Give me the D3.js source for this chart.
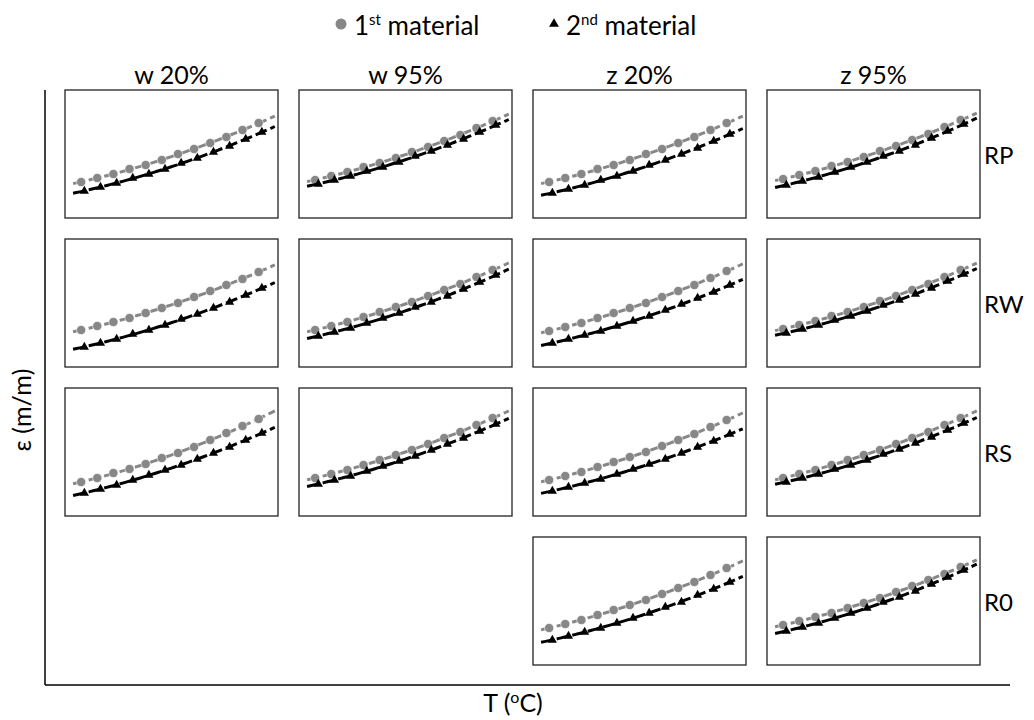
<!DOCTYPE html>
<html>
<head>
<meta charset="utf-8">
<script src="https://cdn.jsdelivr.net/npm/d3@7"></script>
<style>
  html, body { margin: 0; padding: 0; background: #fff; }
  svg { display: block; }
  text { font-family: Lato, "Open Sans", sans-serif; fill: #000; }
</style>
</head>
<body>
<svg id="chart" width="1034" height="720"></svg>
<script>
// Panel grid labels
const columns = ["w 20%", "w 95%", "z 20%", "z 95%"];
const rows = ["RP", "RW", "RS", "R0"];

// Temperatures of the measured points (°C)
const temps1 = [10, 15, 20, 25, 30, 35, 40, 45, 50, 55, 60, 65];
const temps2 = [11, 16, 21, 26, 31, 36, 41, 46, 51, 56, 61, 66];

// Strain (×10⁻³ m/m), one array per row; null where no test was run.
const mat1W20 = [
  [3.6, 4.0, 4.4, 4.9, 5.3, 5.8, 6.4, 6.9, 7.5, 8.1, 8.8, 9.5],
  [3.7, 4.1, 4.5, 4.9, 5.4, 5.9, 6.4, 7.0, 7.6, 8.2, 8.8, 9.5],
  [3.4, 3.8, 4.3, 4.7, 5.2, 5.8, 6.3, 6.9, 7.6, 8.3, 9.0, 9.7],
  null
];
const mat2W20 = [
  [2.7, 3.1, 3.5, 4.0, 4.4, 4.9, 5.5, 6.0, 6.6, 7.2, 7.9, 8.6],
  [2.0, 2.4, 2.8, 3.3, 3.7, 4.2, 4.8, 5.3, 5.9, 6.5, 7.2, 7.9],
  [2.3, 2.7, 3.1, 3.6, 4.1, 4.6, 5.1, 5.7, 6.3, 6.9, 7.6, 8.3],
  null
];
const mat1W95 = [
  [3.8, 4.2, 4.6, 5.1, 5.5, 6.0, 6.6, 7.1, 7.7, 8.3, 9.0, 9.7],
  [3.7, 4.1, 4.5, 5.0, 5.5, 6.0, 6.5, 7.1, 7.7, 8.3, 9.0, 9.7],
  [3.8, 4.2, 4.6, 5.1, 5.6, 6.1, 6.6, 7.2, 7.8, 8.4, 9.1, 9.8],
  null
];
const mat2W95 = [
  [3.4, 3.8, 4.2, 4.7, 5.1, 5.6, 6.2, 6.7, 7.3, 7.9, 8.6, 9.3],
  [3.1, 3.5, 3.9, 4.4, 4.9, 5.4, 6.0, 6.5, 7.1, 7.8, 8.5, 9.2],
  [3.2, 3.6, 4.0, 4.5, 5.0, 5.5, 6.0, 6.6, 7.2, 7.8, 8.5, 9.2],
  null
];
const mat1Z20 = [
  [3.6, 4.0, 4.4, 4.9, 5.3, 5.8, 6.4, 6.9, 7.5, 8.1, 8.8, 9.5],
  [3.6, 4.0, 4.4, 4.9, 5.4, 5.9, 6.4, 7.0, 7.6, 8.2, 8.9, 9.6],
  [3.6, 4.0, 4.4, 4.9, 5.4, 5.9, 6.4, 7.0, 7.6, 8.2, 8.9, 9.6],
  [3.7, 4.1, 4.5, 5.0, 5.5, 6.0, 6.5, 7.1, 7.7, 8.3, 9.0, 9.7]
];
const mat2Z20 = [
  [2.5, 2.9, 3.3, 3.8, 4.2, 4.7, 5.3, 5.8, 6.4, 7.0, 7.7, 8.4],
  [2.4, 2.8, 3.2, 3.6, 4.1, 4.6, 5.1, 5.7, 6.3, 6.9, 7.5, 8.2],
  [2.5, 2.9, 3.3, 3.7, 4.2, 4.7, 5.2, 5.7, 6.3, 6.9, 7.5, 8.2],
  [2.5, 2.9, 3.3, 3.7, 4.2, 4.7, 5.2, 5.8, 6.3, 7.0, 7.6, 8.3]
];
const mat1Z95 = [
  [3.9, 4.3, 4.7, 5.2, 5.6, 6.1, 6.7, 7.2, 7.8, 8.4, 9.1, 9.8],
  [3.8, 4.2, 4.6, 5.1, 5.5, 6.0, 6.6, 7.1, 7.7, 8.3, 9.0, 9.7],
  [3.8, 4.2, 4.6, 5.1, 5.6, 6.1, 6.6, 7.2, 7.8, 8.4, 9.1, 9.8],
  [4.0, 4.4, 4.8, 5.2, 5.7, 6.2, 6.7, 7.3, 7.9, 8.5, 9.1, 9.8]
];
const mat2Z95 = [
  [3.3, 3.7, 4.1, 4.6, 5.1, 5.6, 6.2, 6.7, 7.3, 8.0, 8.7, 9.4],
  [3.4, 3.8, 4.2, 4.7, 5.1, 5.6, 6.2, 6.7, 7.3, 7.9, 8.6, 9.3],
  [3.4, 3.8, 4.2, 4.7, 5.1, 5.6, 6.2, 6.7, 7.3, 7.9, 8.6, 9.3],
  [3.4, 3.8, 4.2, 4.7, 5.2, 5.7, 6.3, 6.8, 7.4, 8.1, 8.8, 9.5]
];

const material1 = [mat1W20, mat1W95, mat1Z20, mat1Z95];
const material2 = [mat2W20, mat2W95, mat2Z20, mat2Z95];

const GREY = "#878787";
const svg = d3.select("#chart");

// Grid of small multiples
const colBand = d3.scaleBand().domain(columns).range([65, 980]).paddingInner(21 / 234);
const rowBand = d3.scaleBand().domain(rows).range([90, 665]).paddingInner(21 / 149);

// Shared panel scales (in panel-local coordinates)
const x = d3.scaleLinear().domain([5, 71]).range([0, colBand.bandwidth()]);
const y = d3.scaleLinear().domain([0, 12.8]).range([rowBand.bandwidth(), 0]);

// Second-order least-squares trend through a series
function quadFit(xs, ys) {
  let s = [0, 0, 0, 0, 0], t = [0, 0, 0];
  xs.forEach((xv, i) => {
    let p = 1;
    for (let k = 0; k < 5; k++) { s[k] += p; if (k < 3) t[k] += p * ys[i]; p *= xv; }
  });
  const M = [[s[0], s[1], s[2]], [s[1], s[2], s[3]], [s[2], s[3], s[4]]];
  const det = m => m[0][0] * (m[1][1] * m[2][2] - m[1][2] * m[2][1])
                 - m[0][1] * (m[1][0] * m[2][2] - m[1][2] * m[2][0])
                 + m[0][2] * (m[1][0] * m[2][1] - m[1][1] * m[2][0]);
  const D = det(M);
  const coef = [0, 1, 2].map(c => det(M.map((r, i) => r.map((v, j) => j === c ? t[i] : v))) / D);
  return xv => coef[0] + coef[1] * xv + coef[2] * xv * xv;
}

const trendStart = temps1[0] - 2.5;
const trendEnd = temps1[temps1.length - 1] + 5;
const trendXs = d3.range(0, 61).map(i => trendStart + (trendEnd - trendStart) * i / 60);
const line = d3.line().x(d => x(d[0])).y(d => y(d[1]));

columns.forEach((col, ci) => {
  rows.forEach((row, ri) => {
    const v1 = material1[ci][ri], v2 = material2[ci][ri];
    if (!v1) return;
    const g = svg.append("g")
      .attr("transform", `translate(${colBand(col)},${rowBand(row)})`);

    g.append("rect")
      .attr("width", colBand.bandwidth()).attr("height", rowBand.bandwidth())
      .attr("fill", "#fff").attr("stroke", "#222").attr("stroke-width", 1.3);

    // 1st material: grey dashed trend + circles
    const f1 = quadFit(temps1, v1);
    g.append("path").datum(trendXs.map(t => [t, f1(t)]))
      .attr("d", line).attr("fill", "none")
      .attr("stroke", GREY).attr("stroke-width", 3).attr("stroke-dasharray", "12,4");
    g.selectAll("circle").data(v1).join("circle")
      .attr("cx", (d, i) => x(temps1[i])).attr("cy", d => y(d)).attr("r", 4.6)
      .attr("fill", GREY).attr("stroke", "#fff").attr("stroke-width", 0.6);

    // 2nd material: black dashed trend + triangles
    const f2 = quadFit(temps2, v2);
    g.append("path").datum(trendXs.map(t => [t, f2(t)]))
      .attr("d", line).attr("fill", "none")
      .attr("stroke", "#000").attr("stroke-width", 3).attr("stroke-dasharray", "12,4");
    g.selectAll("path.tri").data(v2).join("path").attr("class", "tri")
      .attr("d", d3.symbol(d3.symbolTriangle, 36))
      .attr("transform", (d, i) => `translate(${x(temps2[i])},${y(d)})`)
      .attr("fill", "#000");
  });
});

// Column headers
svg.selectAll("text.col").data(columns).join("text").attr("class", "col")
  .attr("x", d => colBand(d) + colBand.bandwidth() / 2).attr("y", 84)
  .attr("text-anchor", "middle").attr("font-size", 25).text(d => d);

// Row labels
svg.selectAll("text.row").data(rows).join("text").attr("class", "row")
  .attr("x", 984).attr("y", d => rowBand(d) + rowBand.bandwidth() / 2)
  .attr("dominant-baseline", "central").attr("font-size", 24).text(d => d);

// Outer axes
svg.append("line").attr("x1", 45).attr("x2", 45).attr("y1", 90).attr("y2", 685)
  .attr("stroke", "#000").attr("stroke-width", 1.5);
svg.append("line").attr("x1", 45).attr("x2", 1010).attr("y1", 685).attr("y2", 685)
  .attr("stroke", "#000").attr("stroke-width", 1.5);

// Axis titles
const xt = svg.append("text").attr("x", 513).attr("y", 712)
  .attr("text-anchor", "middle").attr("font-size", 25);
xt.append("tspan").text("T (");
xt.append("tspan").attr("font-size", 16).attr("dy", -9).text("o");
xt.append("tspan").attr("dy", 9).text("C)");

svg.append("text").attr("transform", "translate(31,410) rotate(-90)")
  .attr("text-anchor", "middle").attr("font-size", 25).text("ε (m/m)");

// Legend
const leg = svg.append("g");
leg.append("circle").attr("cx", 341).attr("cy", 24).attr("r", 5.5).attr("fill", GREY);
const l1 = leg.append("text").attr("x", 354).attr("y", 35).attr("font-size", 26);
l1.append("tspan").text("1");
l1.append("tspan").attr("font-size", 15).attr("dy", -10).text("st");
l1.append("tspan").attr("dy", 10).text(" material");
leg.append("path").attr("d", d3.symbol(d3.symbolTriangle, 42))
  .attr("transform", "translate(554,24)").attr("fill", "#000");
const l2 = leg.append("text").attr("x", 566).attr("y", 35).attr("font-size", 26);
l2.append("tspan").text("2");
l2.append("tspan").attr("font-size", 15).attr("dy", -10).text("nd");
l2.append("tspan").attr("dy", 10).text(" material");
</script>
</body>
</html>
